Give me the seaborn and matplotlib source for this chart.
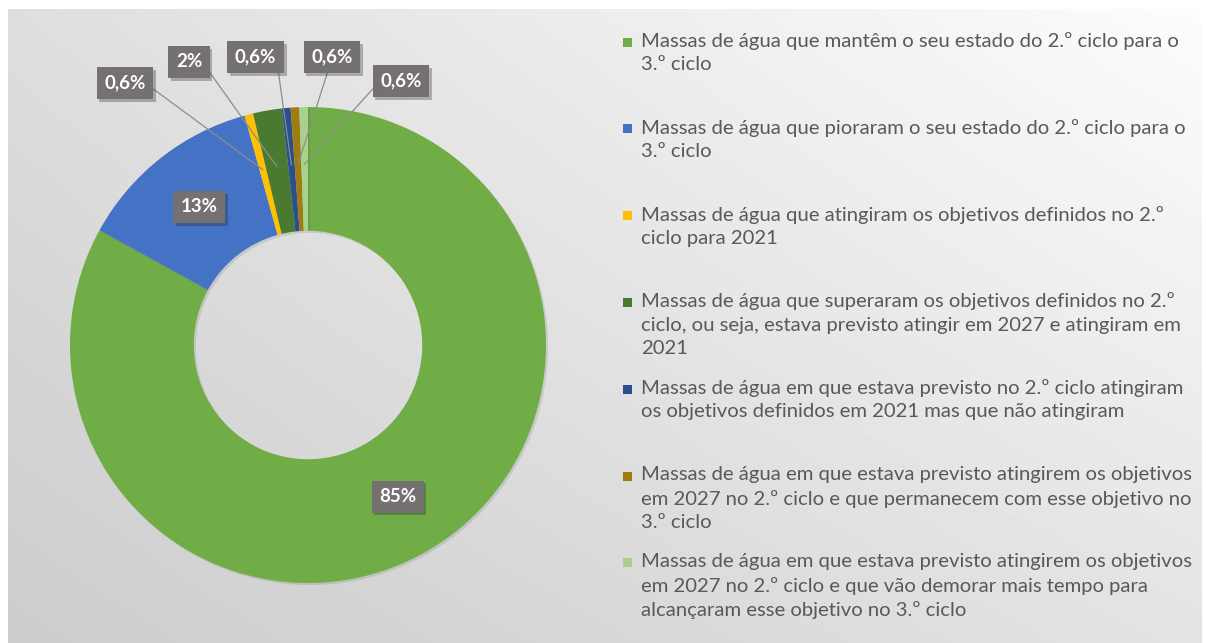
import numpy as np
import matplotlib
matplotlib.use("Agg")
import matplotlib.pyplot as plt
import matplotlib.patheffects as pe
import seaborn as sns

# ---------- dados ----------
categorias = [
    "Massas de água que mantêm o seu estado do 2.º ciclo para o\n3.º ciclo",
    "Massas de água que pioraram o seu estado do 2.º ciclo para o\n3.º ciclo",
    "Massas de água que atingiram os objetivos definidos no 2.º\nciclo para 2021",
    "Massas de água que superaram os objetivos definidos no 2.º\nciclo, ou seja, estava previsto atingir em 2027 e atingiram em\n2021",
    "Massas de água em que estava previsto no 2.º ciclo atingiram\nos objetivos definidos em 2021 mas que não atingiram",
    "Massas de água em que estava previsto atingirem os objetivos\nem 2027 no 2.º ciclo e que permanecem com esse objetivo no\n3.º ciclo",
    "Massas de água em que estava previsto atingirem os objetivos\nem 2027 no 2.º ciclo e que vão demorar mais tempo para\nalcançaram esse objetivo no 3.º ciclo",
]
valores = [85, 13, 0.6, 2, 0.6, 0.6, 0.6]
rotulos = ["85%", "13%", "0,6%", "2%", "0,6%", "0,6%", "0,6%"]
cores = ["#70ad47", "#4472c4", "#ffc000", "#4a7a30", "#2b4f8c", "#a07c10", "#a9d18e"]

# posição (em unidades do raio) dos rótulos das fatias pequenas, e ponto de ligação da linha
pos_rotulos = {2: (-0.77, 1.10), 3: (-0.50, 1.19), 4: (-0.22, 1.21), 5: (0.10, 1.21), 6: (0.39, 1.11)}
relpos = {2: (1, 0.5), 3: (1, 0.5), 4: (1, 0.5), 5: (0.45, 0), 6: (0, 0.5)}

W, H = 1206, 643
sns.set_style("white")
plt.rcParams["font.family"] = ["Lato", "DejaVu Sans"]

fig = plt.figure(figsize=(W / 100, H / 100), dpi=100)
fig.patch.set_facecolor("white")

# ---------- fundo com gradiente ----------
bg = fig.add_axes([8 / W, 0, 1194 / W, 1 - 9 / H])
xx, yy = np.meshgrid(np.linspace(0, 1, 300), np.linspace(0, 1, 200))
v = 0.80 + 0.09 * xx + 0.07 * (1 - yy) + 0.03 * xx * (1 - yy)
bg.imshow(v, cmap="gray", vmin=0, vmax=1, aspect="auto", extent=[0, 1, 1, 0])
bg.set_axis_off()

# ---------- donut ----------
cx, cy, r = 308, 345, 238
ax = fig.add_axes([(cx - r) / W, (H - cy - r) / H, 2 * r / W, 2 * r / H])
ax.set_axis_off()
wedges, _ = ax.pie(
    valores, colors=cores, startangle=90, counterclock=False, radius=1,
    wedgeprops=dict(width=0.52, edgecolor="none"),
)
for w in wedges:
    w.set_path_effects([pe.SimplePatchShadow(offset=(1.5, -1.5), alpha=0.12), pe.Normal()])
ax.set_xlim(-1, 1)
ax.set_ylim(-1, 1)

caixa = dict(boxstyle="square,pad=0.4", fc="#767171", ec="none")
for i, w in enumerate(wedges):
    ang = np.deg2rad((w.theta1 + w.theta2) / 2)
    if i in pos_rotulos:
        px, py = 0.76 * np.cos(ang), 0.76 * np.sin(ang)
        t = ax.annotate(
            rotulos[i], xy=(px, py), xytext=pos_rotulos[i], ha="center", va="center",
            fontsize=13.5, fontweight="bold", color="white", bbox=caixa,
            arrowprops=dict(arrowstyle="-", color="#8c8c8c", lw=0.9,
                            relpos=relpos[i], shrinkA=0, shrinkB=0),
            annotation_clip=False,
        )
    else:
        t = ax.text(0.74 * np.cos(ang), 0.74 * np.sin(ang), rotulos[i], ha="center", va="center",
                    fontsize=13.5, fontweight="bold", color="white", bbox=caixa)
    t.get_bbox_patch().set_path_effects([pe.SimplePatchShadow(offset=(2, -2), alpha=0.3), pe.Normal()])

# ---------- legenda ----------
y0, passo = 42, 86.8
for i, (cat, cor) in enumerate(zip(categorias, cores)):
    yc = y0 + i * passo
    fig.patches.append(plt.Rectangle(((627 - 4.5) / W, 1 - (yc + 4.5) / H), 9 / W, 9 / H,
                                     transform=fig.transFigure, fc=cor, ec="none"))
    fig.text(641 / W, 1 - (yc - 10) / H, cat, ha="left", va="top", fontsize=14.6,
             color="#595959", linespacing=1.45)

fig.savefig("out.png", dpi=100)
